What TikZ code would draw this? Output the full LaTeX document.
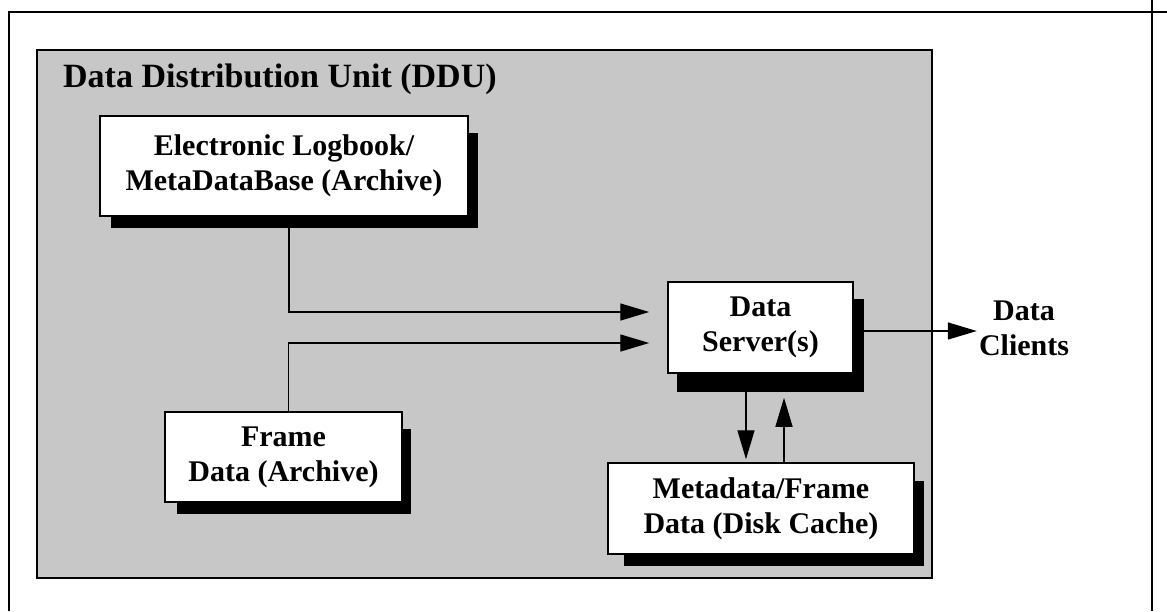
\documentclass[tikz,border=0pt]{standalone}
\usepackage{fontspec}
\setmainfont{Liberation Serif}
\usetikzlibrary{arrows.meta}
\definecolor{ddugray}{gray}{0.78}
\tikzset{
  boxtext/.style={font=\fontsize{30}{35}\selectfont\bfseries, align=center},
  unitbox/.style={draw=black, line width=1.5pt, fill=white, inner sep=0pt, boxtext},
  shadowfill/.style={fill=black},
  conn/.style={line width=1.4pt, draw=black},
  arr/.style={conn, -{Triangle[length=29pt,width=17pt]}},
  frameline/.style={line width=1.4pt, draw=black}
}
\begin{document}
\begin{tikzpicture}[x=1pt,y=-1pt]
\useasboundingbox (0,0) rectangle (1167,611);
% outer page lines
\coordinate (oBL) at (9,611);
\coordinate (oTL) at (9,12);
\coordinate (oTR) at (1167,12);
\coordinate (rT) at (1152,0);
\coordinate (rB) at (1152,611);
\draw[frameline] (oBL) -- (oTL) -- (oTR);
\draw[frameline] (rT) -- (rB);
% gray unit
\draw[frameline, fill=ddugray] (37,50) rectangle (932,578);
\node[anchor=base west, font=\fontsize{34}{40}\selectfont\bfseries, inner sep=0pt] (title) at (63,87) {Data Distribution Unit (DDU)};
% boxes (placed first so connectors can reference them)
\path node[unitbox, minimum width=368pt, minimum height=100pt, draw=none, fill=none] (el) at (284,166) {};
\path node[unitbox, minimum width=185pt, minimum height=91pt, draw=none, fill=none] (ds) at (760.5,327.5) {};
\path node[unitbox, minimum width=237pt, minimum height=90pt, draw=none, fill=none] (fr) at (283.5,457) {};
\path node[unitbox, minimum width=306pt, minimum height=91pt, draw=none, fill=none] (md) at (761,508.5) {};
\node[boxtext, inner sep=2pt] (dc) at (1024,328) {Data\\Clients};
% connectors
\draw[arr, shorten >=18pt] ([xshift=5pt]el.south) |- ([yshift=15.5pt]ds.west);
\draw[arr, shorten >=18pt] ([xshift=5pt]fr.north) |- ([yshift=-15.5pt]ds.west);
\draw[arr] ([yshift=-3.5pt]ds.east) -- ([yshift=-3.5pt]ds.east -| dc.west);
\draw[arr, shorten >=3pt] ([xshift=-14.5pt]ds.south) -- ([xshift=-14.5pt]ds.south |- md.north);
\draw[arr, shorten >=24pt] ([xshift=23.5pt]ds.south |- md.north) -- ([xshift=23.5pt]ds.south);
% shadows
\fill[shadowfill] ([shift={(12pt,-18pt)}]el.north west) rectangle ([shift={(9pt,-11pt)}]el.south east);
\fill[shadowfill] ([shift={(10pt,-18pt)}]ds.north west) rectangle ([shift={(10pt,-18pt)}]ds.south east);
\fill[shadowfill] ([shift={(13pt,-18pt)}]fr.north west) rectangle ([shift={(8pt,-11pt)}]fr.south east);
\fill[shadowfill] ([shift={(17pt,-19pt)}]md.north west) rectangle ([shift={(9pt,-11pt)}]md.south east);
% visible boxes
\node[unitbox, minimum width=368pt, minimum height=100pt] at (el) {Electronic Logbook/\\MetaDataBase (Archive)};
\node[unitbox, minimum width=185pt, minimum height=91pt] at (ds) {Data\\Server(s)};
\node[unitbox, minimum width=237pt, minimum height=90pt] at (fr) {Frame\\Data (Archive)};
\node[unitbox, minimum width=306pt, minimum height=91pt] at (md) {Metadata/Frame\\Data (Disk Cache)};
\end{tikzpicture}
\end{document}
